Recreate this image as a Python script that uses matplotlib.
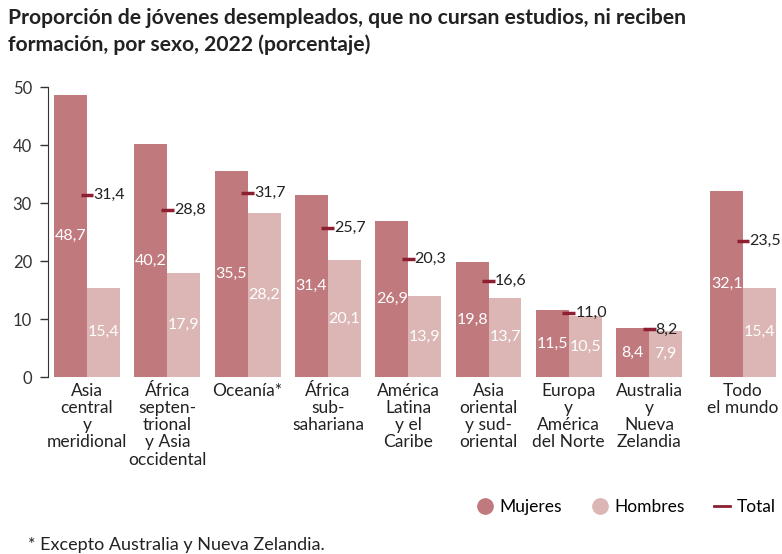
import numpy as np
import matplotlib
matplotlib.use('Agg')
from matplotlib import pyplot as plt
from matplotlib.lines import Line2D

plt.rcParams['font.family'] = ['Lato', 'DejaVu Sans']

regiones = ['Asia\ncentral\ny\nmeridional', 'África\nsepten-\ntrional\ny Asia\noccidental', 'Oceanía*',
            'África\nsub-\nsahariana', 'América\nLatina\ny el\nCaribe', 'Asia\noriental\ny sud-\noriental',
            'Europa\ny\nAmérica\ndel Norte', 'Australia\ny\nNueva\nZelandia', 'Todo\nel mundo']
mujeres = [48.7, 40.2, 35.5, 31.4, 26.9, 19.8, 11.5, 8.4, 32.1]
hombres = [15.4, 17.9, 28.2, 20.1, 13.9, 13.7, 10.5, 7.9, 15.4]
total = [31.4, 28.8, 31.7, 25.7, 20.3, 16.6, 11.0, 8.2, 23.5]
pos = [0, 1, 2, 3, 4, 5, 6, 7, 8.17]

c_muj = '#c07a7e'
c_hom = '#dcb5b5'
c_tot = '#8e1f30'
w = 0.41

def fmt(v):
    return ('%.1f' % v).replace('.', ',')

fig = plt.figure(figsize=(7.82, 5.54), dpi=100)
ax = fig.add_axes([48 / 782, 177 / 554, 734 / 782, 290 / 554])

x = np.array(pos)
ax.bar(x - w / 2, mujeres, w, color=c_muj)
ax.bar(x + w / 2, hombres, w, color=c_hom)

for xi, m, h, t in zip(x, mujeres, hombres, total):
    ax.text(xi - w / 2, m / 2, fmt(m), ha='center', va='center', color='white', fontsize=11.5)
    ax.text(xi + w / 2, h / 2, fmt(h), ha='center', va='center', color='white', fontsize=11.5)
    ax.plot([xi - 0.08, xi + 0.08], [t, t], color=c_tot, lw=2.5, solid_capstyle='butt')
    ax.text(xi + 0.08, t, fmt(t), ha='left', va='center', color='#222222', fontsize=11.5)

ax.set_xlim(-0.486, 8.655)
ax.set_ylim(0, 50)
ax.set_yticks([0, 10, 20, 30, 40, 50])
ax.set_xticks(pos)
ax.set_xticklabels(regiones, fontsize=12.5, linespacing=1.1, color='#222222')
ax.tick_params(axis='x', length=0, pad=4)
ax.tick_params(axis='y', length=5.5, width=1, color='#333333', labelsize=12, labelcolor='#333333', pad=6)
for s in ['top', 'right', 'bottom']:
    ax.spines[s].set_visible(False)
ax.spines['left'].set_color('#333333')

fig.text(8 / 782, 1 - 8 / 554, 'Proporción de jóvenes desempleados, que no cursan estudios, ni reciben\nformación, por sexo, 2022 (porcentaje)',
         ha='left', va='top', fontsize=15.2, fontweight='bold', color='#222222', linespacing=1.4)

handles = [Line2D([], [], marker='o', ls='', color=c_muj, markersize=11),
           Line2D([], [], marker='o', ls='', color=c_hom, markersize=11),
           Line2D([], [], color=c_tot, lw=2)]
fig.legend(handles, ['Mujeres', 'Hombres', 'Total'], loc='center right', bbox_to_anchor=(1.012, 1 - 507 / 554),
           ncol=3, frameon=False, fontsize=12.5, handlelength=0.9, handletextpad=0.4, columnspacing=1.7)

fig.text(28 / 782, 1 - 545 / 554, '* Excepto Australia y Nueva Zelandia.', ha='left', va='center', fontsize=13, color='#222222')

fig.savefig('out.png', dpi=100)
